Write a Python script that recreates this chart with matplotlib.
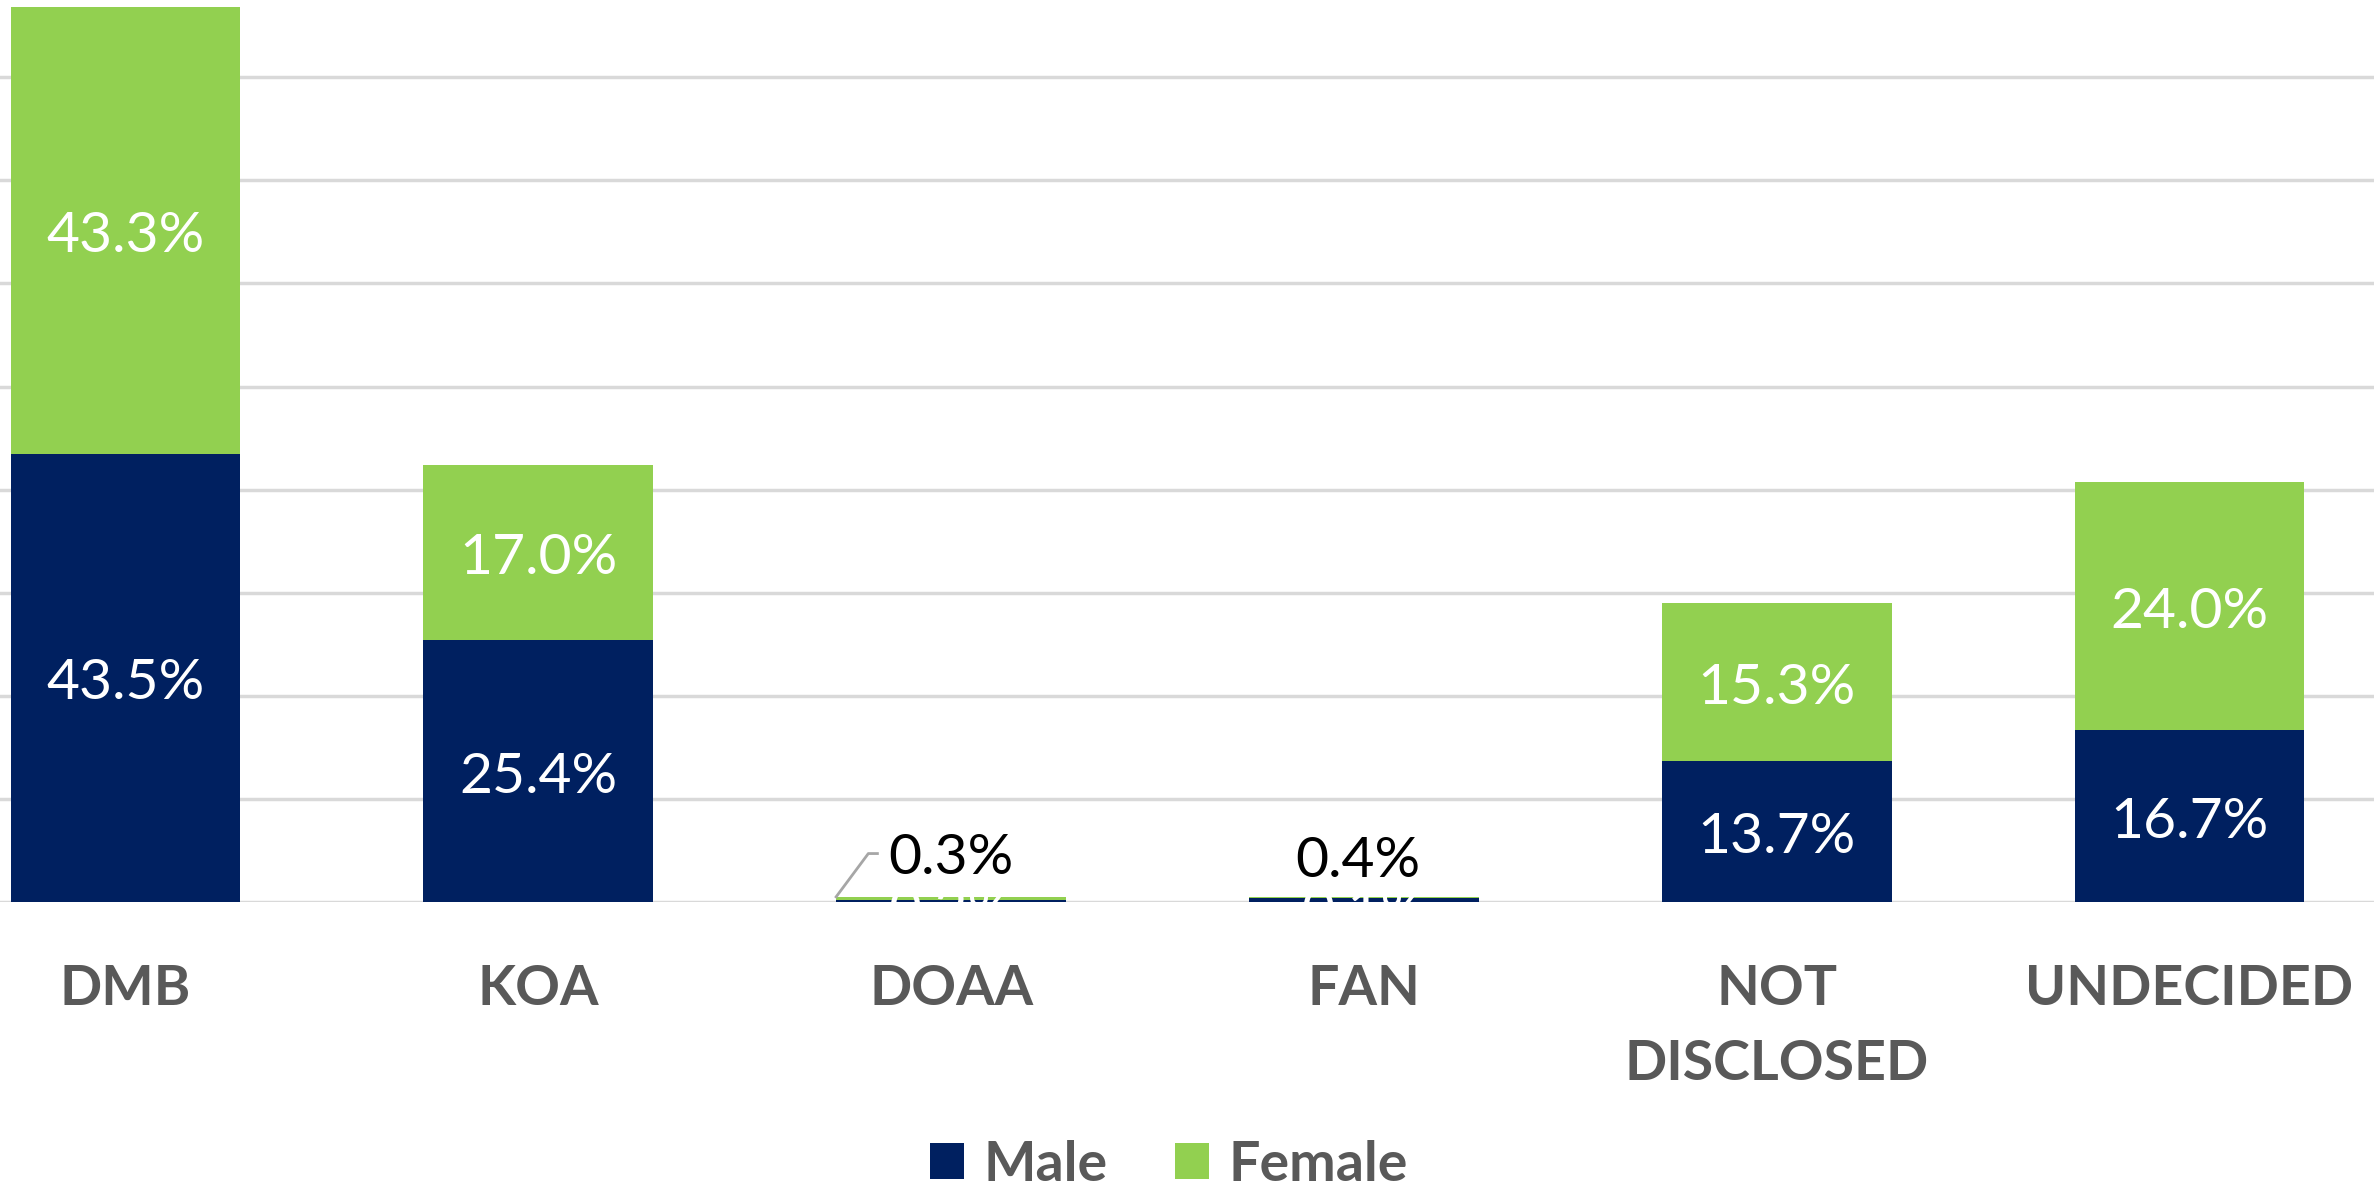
import matplotlib
matplotlib.use("Agg")
import matplotlib.pyplot as plt
import numpy as np

categories = ["DMB", "KOA", "DOAA", "FAN", "NOT\nDISCLOSED", "UNDECIDED"]
male = [43.5, 25.4, 0.2, 0.4, 13.7, 16.7]
female = [43.3, 17.0, 0.3, 0.1, 15.3, 24.0]
series_names = ["Male", "Female"]

NAVY = "#002060"
GREEN = "#92D050"
GRAY = "#595959"
GRID = "#D9D9D9"

plt.rcParams['font.family'] = ['Lato', 'DejaVu Sans']

W, H = 2374, 1189
fig = plt.figure(figsize=(W / 100, H / 100), dpi=100)
ax = fig.add_axes([0, 1 - 902 / H, 1, 902 / H])

x = np.arange(len(categories))
bw = 0.557
ax.bar(x, male, bw, color=NAVY, label=series_names[0], zorder=2)
ax.bar(x, female, bw, bottom=male, color=GREEN, label=series_names[1], zorder=2)

ax.set_xlim(-0.304, 5.447)
ax.set_ylim(0, 87.5)
ax.set_yticks(np.arange(0, 81, 10))
ax.yaxis.grid(True, color=GRID, linewidth=2.5, zorder=0)
ax.tick_params(axis='y', length=0, labelleft=False)
ax.tick_params(axis='x', length=0, labelbottom=False)
for s in ax.spines.values():
    s.set_visible(False)

fs_lab = 41
dy = -0.6
for i in range(len(categories)):
    m, f = male[i], female[i]
    if m >= 2:
        ax.text(i, m / 2 + dy, f"{m:.1f}%", ha='center', va='center', color='white', fontsize=fs_lab, zorder=3)
    if f >= 2:
        ax.text(i, m + f / 2 + dy, f"{f:.1f}%", ha='center', va='center', color='white', fontsize=fs_lab, zorder=3)

# small segments
# DOAA: female label moved up with leader; male label hidden (white)
ax.text(2, -1.0, f"{male[2]:.1f}%", ha='center', va='center', color='white', fontsize=fs_lab, zorder=3)
ax.text(2.0, 4.2, f"{female[2]:.1f}%", ha='center', va='center', color='black', fontsize=fs_lab, zorder=3)
ax.plot([2 - bw / 2, 2 - bw / 2 + 0.078, 2 - bw / 2 + 0.1], [male[2] + female[2], 4.7, 4.7],
        color='#A6A6A6', linewidth=2, zorder=3)
# FAN: male label moved up; female label hidden
ax.text(3, -1.0, f"{female[3]:.1f}%", ha='center', va='center', color='white', fontsize=fs_lab, zorder=3)
ax.text(2.985, 3.9, f"{male[3]:.1f}%", ha='center', va='center', color='black', fontsize=fs_lab, zorder=3)

# category labels
for i, c in enumerate(categories):
    ax.text(i, -6.0, c, ha='center', va='top', color=GRAY, fontsize=40, fontweight='bold',
            linespacing=1.62, transform=ax.transData, clip_on=False)

handles, labels = ax.get_legend_handles_labels()
leg = fig.legend(handles, labels, loc='center', bbox_to_anchor=(1169 / W, 1 - 1165 / H), ncol=2,
                 frameon=False, prop={'weight': 'bold', 'size': 40},
                 handlelength=0.62, handleheight=0.62, handletextpad=0.35, columnspacing=1.2)
for t in leg.get_texts():
    t.set_color(GRAY)

fig.savefig("out.png", dpi=100, facecolor='white')
